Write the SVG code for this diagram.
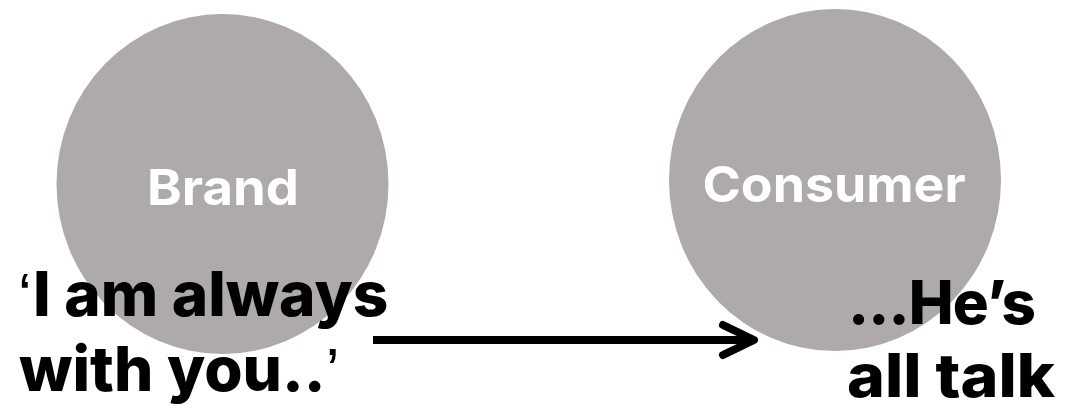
<svg xmlns="http://www.w3.org/2000/svg" width="1066" height="411" viewBox="0 0 1066 411">
<style>
.node{fill:#adaaa9}
.lbl{font-family:Inter,"Liberation Sans",Arial,sans-serif;font-weight:700;fill:#fff;font-size:50px;text-anchor:middle}
.big{font-family:Inter,"Liberation Sans",Arial,sans-serif;font-weight:800;fill:#000;font-size:62px}
.big2{font-family:Inter,"Liberation Sans",Arial,sans-serif;font-weight:800;fill:#000;font-size:60px}
.q{font-family:"Liberation Sans",Arial,sans-serif;font-weight:400}
.conn{stroke:#000;stroke-width:8;fill:none}
</style>
<rect width="1066" height="411" fill="#fff"/>
<g id="brand">
<ellipse class="node" cx="222.5" cy="184" rx="166" ry="170"/>
<text class="lbl" x="223" y="205" textLength="152" lengthAdjust="spacingAndGlyphs">Brand</text>
</g>
<g id="consumer">
<ellipse class="node" cx="835" cy="180" rx="166" ry="171"/>
<text class="lbl" x="834" y="202" textLength="263" lengthAdjust="spacingAndGlyphs">Consumer</text>
</g>
<g id="connectors">
<line class="conn" x1="373" y1="340" x2="750" y2="340"/>
<polyline class="conn" points="723,325 754,340 723,355" stroke-linecap="round" stroke-linejoin="round"/>
</g>
<g id="brand-quote">
<text class="big" x="18" y="316"><tspan class="q">‘</tspan><tspan x="33">I am always</tspan></text>
<text class="big" x="19" y="391">with you..<tspan class="q">’</tspan></text>
</g>
<g id="consumer-quote">
<text class="big2" x="848" y="324" textLength="188" lengthAdjust="spacing">...He’s</text>
<text class="big2" x="847" y="397" textLength="208" lengthAdjust="spacingAndGlyphs">all talk</text>
</g>
</svg>
